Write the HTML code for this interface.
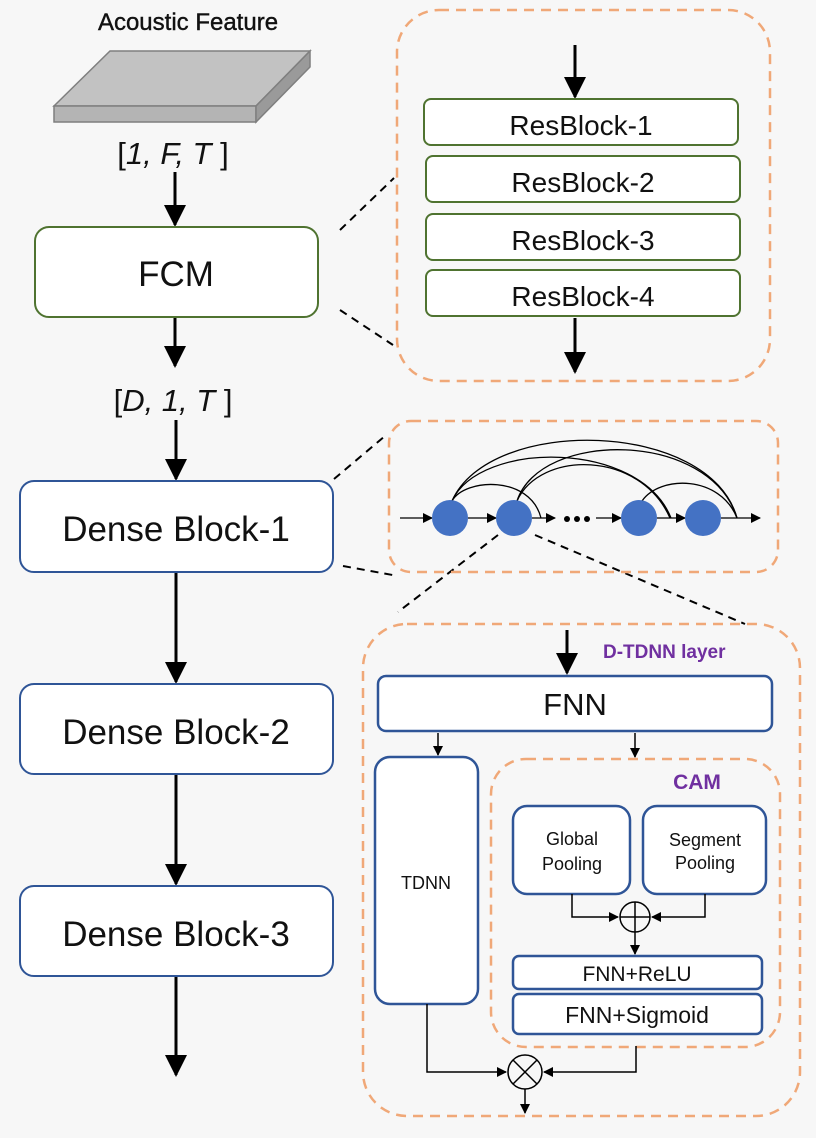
<!DOCTYPE html>
<html><head><meta charset="utf-8"><style>
html,body{margin:0;padding:0;background:#f7f7f7;}
svg{display:block;}
text{font-family:"Liberation Sans","DejaVu Sans",sans-serif;fill:#111;}
</style></head><body>
<svg width="816" height="1138" viewBox="0 0 816 1138" xmlns="http://www.w3.org/2000/svg">
<defs>
<marker id="a" markerWidth="10" markerHeight="10" refX="9" refY="5" orient="auto" markerUnits="userSpaceOnUse"><path d="M0,0 L10,5 L0,10 z" fill="#000"/></marker>
<marker id="b" markerWidth="22" markerHeight="22" refX="20" refY="11" orient="auto" markerUnits="userSpaceOnUse"><path d="M0,0 L22,11 L0,22 z" fill="#000"/></marker>
</defs>
<rect width="816" height="1138" fill="#f7f7f7"/>
<text x="188" y="30" font-size="24" text-anchor="middle" stroke="#111" stroke-width="0.4">Acoustic Feature</text>
<polygon points="110,51 310,51 256,106 54,106" fill="#c2c2c2" stroke="#7f7f7f" stroke-width="1.5"/>
<polygon points="54,106 256,106 256,122 54,122" fill="#b4b4b4" stroke="#7f7f7f" stroke-width="1.5"/>
<polygon points="256,106 310,51 310,67 256,122" fill="#9a9a9a" stroke="#7f7f7f" stroke-width="1.5"/>
<text x="173" y="164" font-size="31" text-anchor="middle">[<tspan font-style="italic">1, F, T</tspan> ]</text>
<line x1="175" y1="172" x2="175" y2="225" stroke="#000" stroke-width="3" marker-end="url(#b)"/>
<rect x="35" y="227" width="283" height="90" rx="14" fill="#fff" stroke="#4f7330" stroke-width="2"/>
<text x="176" y="286" font-size="35" text-anchor="middle">FCM</text>
<line x1="175" y1="318" x2="175" y2="366" stroke="#000" stroke-width="3" marker-end="url(#b)"/>
<text x="173" y="411" font-size="31" text-anchor="middle">[<tspan font-style="italic">D, 1, T</tspan> ]</text>
<line x1="176" y1="420" x2="176" y2="479" stroke="#000" stroke-width="3" marker-end="url(#b)"/>
<rect x="20" y="481" width="313" height="91" rx="14" fill="#fff" stroke="#2f5597" stroke-width="2"/>
<text x="176" y="541" font-size="35" text-anchor="middle">Dense Block-1</text>
<line x1="176" y1="573" x2="176" y2="682" stroke="#000" stroke-width="3" marker-end="url(#b)"/>
<rect x="20" y="684" width="313" height="90" rx="14" fill="#fff" stroke="#2f5597" stroke-width="2"/>
<text x="176" y="744" font-size="35" text-anchor="middle">Dense Block-2</text>
<line x1="176" y1="775" x2="176" y2="884" stroke="#000" stroke-width="3" marker-end="url(#b)"/>
<rect x="20" y="886" width="313" height="90" rx="14" fill="#fff" stroke="#2f5597" stroke-width="2"/>
<text x="176" y="946" font-size="35" text-anchor="middle">Dense Block-3</text>
<line x1="176" y1="977" x2="176" y2="1075" stroke="#000" stroke-width="3" marker-end="url(#b)"/>
<g stroke="#000" stroke-width="2" stroke-dasharray="8,6" fill="none">
<line x1="340" y1="230" x2="394" y2="178"/>
<line x1="340" y1="310" x2="393" y2="345"/>
<line x1="334" y1="479" x2="385" y2="436"/>
<line x1="343" y1="566" x2="398" y2="576"/>
<line x1="498" y1="535" x2="398" y2="612"/>
<line x1="535" y1="535" x2="745" y2="624"/>
</g>
<rect x="397" y="10" width="373" height="371" rx="42" fill="none" stroke="#f0a878" stroke-width="2.5" stroke-dasharray="10,7"/>
<line x1="575" y1="45" x2="575" y2="97" stroke="#000" stroke-width="3" marker-end="url(#b)"/>
<rect x="424" y="99" width="314" height="46" rx="7" fill="#fff" stroke="#4f7330" stroke-width="2"/>
<text x="581" y="135" font-size="28" text-anchor="middle">ResBlock-1</text>
<rect x="426" y="156" width="314" height="46" rx="7" fill="#fff" stroke="#4f7330" stroke-width="2"/>
<text x="583" y="192" font-size="28" text-anchor="middle">ResBlock-2</text>
<rect x="426" y="214" width="314" height="46" rx="7" fill="#fff" stroke="#4f7330" stroke-width="2"/>
<text x="583" y="250" font-size="28" text-anchor="middle">ResBlock-3</text>
<rect x="426" y="270" width="314" height="46" rx="7" fill="#fff" stroke="#4f7330" stroke-width="2"/>
<text x="583" y="306" font-size="28" text-anchor="middle">ResBlock-4</text>
<line x1="575" y1="318" x2="575" y2="372" stroke="#000" stroke-width="3" marker-end="url(#b)"/>
<rect x="389" y="421" width="389" height="151" rx="22" fill="none" stroke="#f0a878" stroke-width="2.5" stroke-dasharray="10,7"/>
<g stroke="#000" stroke-width="1.3" fill="none">
<line x1="400" y1="518" x2="432" y2="518" marker-end="url(#a)"/>
<line x1="468" y1="518" x2="496" y2="518" marker-end="url(#a)"/>
<line x1="532" y1="518" x2="555" y2="518" marker-end="url(#a)"/>
<line x1="596" y1="518" x2="621" y2="518" marker-end="url(#a)"/>
<line x1="657" y1="518" x2="685" y2="518" marker-end="url(#a)"/>
<line x1="721" y1="518" x2="760" y2="518" marker-end="url(#a)"/>
<path d="M452,501 C465,478 530,475 541,518"/>
<path d="M452,501 C480,440 640,440 671,518"/>
<path d="M452,501 C490,415 710,420 737,518"/>
<path d="M517,501 C540,450 640,450 670,518"/>
<path d="M517,501 C540,430 710,430 737,518"/>
<path d="M642,501 C660,475 720,475 737,518"/>
</g>
<g fill="#4472c4"><circle cx="450" cy="518" r="18"/><circle cx="514" cy="518" r="18"/><circle cx="639" cy="518" r="18"/><circle cx="703" cy="518" r="18"/></g>
<g fill="#000"><circle cx="567" cy="519" r="3"/><circle cx="577" cy="519" r="3"/><circle cx="587" cy="519" r="3"/></g>
<rect x="363" y="624" width="437" height="492" rx="44" fill="none" stroke="#f0a878" stroke-width="2.5" stroke-dasharray="10,7"/>
<line x1="567" y1="630" x2="567" y2="673" stroke="#000" stroke-width="3" marker-end="url(#b)"/>
<text x="603" y="658" font-size="19" font-weight="bold" style="fill:#7030a0">D-TDNN layer</text>
<rect x="378" y="676" width="394" height="55" rx="8" fill="#fff" stroke="#2f5597" stroke-width="2.5"/>
<text x="575" y="715" font-size="31" text-anchor="middle">FNN</text>
<line x1="438" y1="733" x2="438" y2="755" stroke="#000" stroke-width="1.5" marker-end="url(#a)"/>
<line x1="635" y1="733" x2="635" y2="757" stroke="#000" stroke-width="1.5" marker-end="url(#a)"/>
<rect x="375" y="757" width="103" height="247" rx="15" fill="#fff" stroke="#2f5597" stroke-width="2.5"/>
<text x="426" y="889" font-size="18" text-anchor="middle">TDNN</text>
<rect x="491" y="759" width="289" height="288" rx="35" fill="none" stroke="#f0a878" stroke-width="2.5" stroke-dasharray="10,7"/>
<text x="697" y="789" font-size="21" font-weight="bold" text-anchor="middle" style="fill:#7030a0">CAM</text>
<rect x="513" y="806" width="117" height="88" rx="14" fill="#fff" stroke="#2f5597" stroke-width="2.5"/>
<text x="572" y="845" font-size="18" text-anchor="middle">Global</text>
<text x="572" y="870" font-size="18" text-anchor="middle">Pooling</text>
<rect x="643" y="806" width="123" height="88" rx="14" fill="#fff" stroke="#2f5597" stroke-width="2.5"/>
<text x="705" y="846" font-size="18" text-anchor="middle">Segment</text>
<text x="705" y="869" font-size="18" text-anchor="middle">Pooling</text>
<g stroke="#000" stroke-width="1.5" fill="none">
<polyline points="572,894 572,917 618,917" marker-end="url(#a)"/>
<polyline points="705,894 705,917 652,917" marker-end="url(#a)"/>
<circle cx="635" cy="917" r="15"/>
<line x1="620" y1="917" x2="650" y2="917"/><line x1="635" y1="902" x2="635" y2="932"/>
<line x1="635" y1="932" x2="635" y2="954" marker-end="url(#a)"/>
<polyline points="427,1004 427,1072 506,1072" marker-end="url(#a)"/>
<polyline points="636,1046 636,1072 544,1072" marker-end="url(#a)"/>
<circle cx="525" cy="1072" r="17"/>
<line x1="513" y1="1060" x2="537" y2="1084"/><line x1="537" y1="1060" x2="513" y2="1084"/>
<line x1="525" y1="1089" x2="525" y2="1113" marker-end="url(#a)"/>
</g>
<rect x="513" y="956" width="249" height="33" rx="6" fill="#fff" stroke="#2f5597" stroke-width="2.5"/>
<text x="637" y="981" font-size="21" text-anchor="middle">FNN+ReLU</text>
<rect x="513" y="994" width="249" height="40" rx="6" fill="#fff" stroke="#2f5597" stroke-width="2.5"/>
<text x="637" y="1023" font-size="23" text-anchor="middle">FNN+Sigmoid</text>
</svg>
</body></html>
